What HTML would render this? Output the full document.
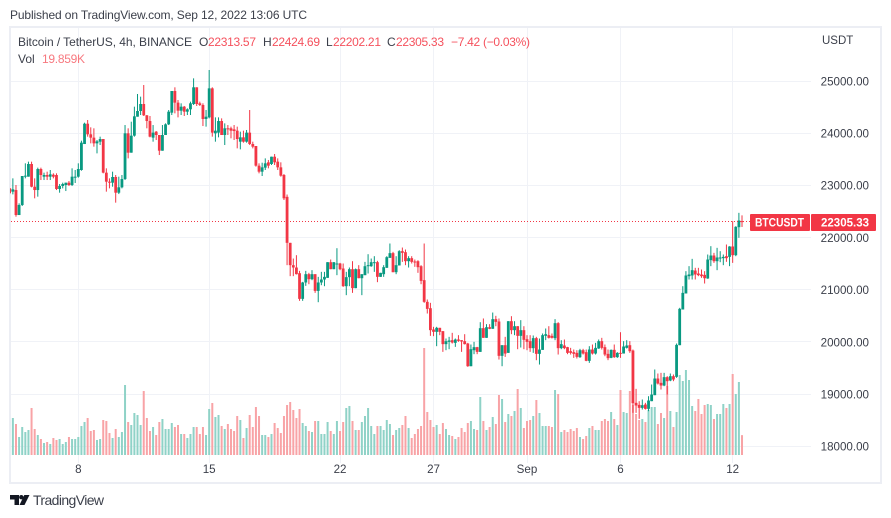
<!DOCTYPE html>
<html lang="en">
<head>
<meta charset="utf-8">
<title>BTCUSDT chart</title>
<style>
html,body{margin:0;padding:0;background:#fff;width:891px;height:518px;overflow:hidden}
svg{display:block}
text{font-family:"Liberation Sans",sans-serif}
</style>
</head>
<body>
<svg id="chart" xmlns="http://www.w3.org/2000/svg" width="891" height="518" viewBox="0 0 891 518">
  <rect x="0" y="0" width="891" height="518" fill="#ffffff"/>
  <text x="10" y="19" font-size="12" fill="#3b3f4a" textLength="297" lengthAdjust="spacing">Published on TradingView.com, Sep 12, 2022 13:06 UTC</text>
  <rect x="10" y="27" width="871" height="456" fill="none" stroke="#eceef4" stroke-width="2"/>
  <g id="grid"></g>
  <g id="volumes"></g>
  <g id="candles"></g>
  <g id="yaxis"></g>
  <g id="xaxis"></g>
  <line id="lastline" x1="11" x2="750" stroke="#f23645" stroke-width="1" stroke-dasharray="1 2"/>
  <g>
    <rect x="750" y="214" width="60" height="17" rx="1" fill="#f23645"/>
    <rect x="811" y="214" width="65" height="17" rx="1" fill="#f23645"/>
    <text x="755" y="226.5" font-size="12" fill="#ffffff" font-weight="700" textLength="49" lengthAdjust="spacingAndGlyphs">BTCUSDT</text>
    <text x="821" y="226.5" font-size="12" fill="#ffffff" font-weight="700" textLength="48" lengthAdjust="spacingAndGlyphs">22305.33</text>
  </g>
  <text x="822" y="44" font-size="11.5" fill="#3b3f4a">USDT</text>
  <g font-size="12">
    <text x="18" y="46" fill="#3b3f4a" textLength="174" lengthAdjust="spacing">Bitcoin / TetherUS, 4h, BINANCE</text>
    <text x="199" y="46" fill="#3b3f4a">O</text>
    <text x="208" y="46" fill="#f5515d" textLength="48" lengthAdjust="spacing">22313.57</text>
    <text x="263" y="46" fill="#3b3f4a">H</text>
    <text x="272" y="46" fill="#f5515d" textLength="48" lengthAdjust="spacing">22424.69</text>
    <text x="326" y="46" fill="#3b3f4a">L</text>
    <text x="333" y="46" fill="#f5515d" textLength="48" lengthAdjust="spacing">22202.21</text>
    <text x="387" y="46" fill="#3b3f4a">C</text>
    <text x="396" y="46" fill="#f5515d" textLength="48" lengthAdjust="spacing">22305.33</text>
    <text x="451" y="46" fill="#f5515d" textLength="79" lengthAdjust="spacing">−7.42 (−0.03%)</text>
    <text x="18" y="63" fill="#3b3f4a">Vol</text>
    <text x="42" y="63" fill="#f7787f" textLength="43" lengthAdjust="spacing">19.859K</text>
  </g>
  <g>
    <polygon points="10,495 19,495 19,505 14.5,505 14.5,499.5 10,499.5" fill="#131722"/>
    <circle cx="21.3" cy="497.2" r="2.2" fill="#131722"/>
    <polygon points="24.3,495 29.5,495 24.5,505 19.5,505" fill="#131722"/>
    <text x="33" y="505" font-size="14" fill="#3b3f4a" textLength="71" lengthAdjust="spacing">TradingView</text>
  </g>
</svg>
<script>
var timeTickLabels = ["8","15","22","27","Sep","6","12"];
var timeTickBars = [22,64,106,136,166,196,232];
var priceTicks = [25000,24000,23000,22000,21000,20000,19000,18000];
var lastPrice = 22305.33;
var opens = [
22942,22879,22910,22431,22623,23166,23166,23409,22974,22910,
23313,23166,23198,23166,23204,23198,22930,22987,23006,23051,
23006,23153,23166,23294,23792,24182,23978,23914,23805,23837,
23888,23243,23070,23051,23160,22859,22962,23121,23997,23626,
23952,24316,24425,24559,24342,24233,23914,24029,23965,23664,
23965,24169,24393,24808,24585,24431,24508,24412,24457,24559,
24879,24572,24540,24272,24303,24859,23997,24010,24233,23965,
24093,24093,24073,24048,23837,23920,23837,24010,23792,23754,
23377,23262,23339,23441,23409,23549,23454,23345,23198,22780,
21898,21470,21425,21316,20824,21138,21297,21201,21297,20977,
21138,21195,21227,21527,21393,21489,21502,21406,21067,21240,
21393,21029,21393,21220,21278,21450,21450,21514,21527,21246,
21297,21419,21610,21700,21335,21464,21738,21719,21546,21604,
21540,21546,21450,21182,20767,20645,20237,20192,20269,20205,
19956,20000,20032,19981,20045,20032,20013,19968,19533,19840,
19898,19808,20262,20077,20281,20250,20435,20390,19732,19936,
19789,20396,20224,20300,20115,20224,20051,20013,19879,20071,
19770,19846,20115,20128,20115,20071,20358,19879,19930,19898,
19821,19802,19789,19706,19840,19802,19636,19853,19776,19872,
20013,19898,19770,19693,19847,19706,19789,19776,19885,19936,
19834,18831,18792,18735,18799,18716,18863,18978,19297,19214,
19163,19323,19259,19342,19329,19936,20620,20927,21259,21272,
21367,21310,21291,21284,21214,21566,21655,21546,21604,21604,
21642,21629,21828,21661,22198,22313.57];
var highs = [
22942,23134,23006,22655,23179,23422,23454,23454,23134,23339,
23339,23243,23262,23294,23230,23230,23025,23051,23051,23083,
23326,23294,23422,23856,24201,24252,24112,24093,23869,23933,
23888,23326,23134,23262,23198,23166,23198,24156,24093,24220,
24508,24751,24700,24923,24348,24329,24156,24041,23965,24156,
24188,24444,24808,24879,24636,24572,24521,24476,24604,25051,
24879,24604,24572,24444,25211,24879,24303,24303,24284,24188,
24156,24125,24156,24125,24029,24048,24061,24444,23837,23754,
23422,23434,23517,23486,23549,23601,23517,23441,23217,22824,
21898,21597,21661,21361,21150,21361,21323,21374,21297,21246,
21342,21342,21527,21578,21527,21795,21514,21502,21342,21425,
21546,21406,21470,21297,21533,21680,21597,21642,21553,21323,
21470,21642,21885,21725,21642,21757,21808,21770,21642,21642,
21578,21565,21470,21885,20812,20748,20288,20288,20269,20205,
20064,20096,20173,20064,20128,20032,20147,19981,19949,20000,
19904,20377,20448,20339,20339,20562,20499,20448,19936,20096,
20396,20492,20396,20300,20416,20300,20128,20128,20122,20096,
20064,20160,20256,20300,20160,20435,20377,20032,20045,19904,
19885,19853,19840,19866,19866,19853,19917,19949,19981,20045,
20077,19949,19853,19853,19949,19802,20185,20013,20032,20013,
19853,19099,18863,18895,18831,18958,19182,19470,19393,19406,
19406,19342,19393,19374,19968,20652,21067,21355,21451,21591,
21419,21419,21387,21355,21674,21834,21706,21802,21738,21674,
21866,21834,22313,22217,22473,22424.69];
var lows = [
22847,22827,22399,22431,22604,23134,23166,22962,22751,22783,
23102,23102,23102,23102,23134,22910,22859,22942,22891,22987,
22987,23045,23147,23280,23792,23933,23805,23741,23613,23773,
23230,22879,22942,22974,22668,22833,22942,23102,23517,23626,
23933,24316,24348,24329,24093,23920,23837,23869,23581,23664,
23965,24156,24348,24380,24303,24348,24329,24348,24348,24540,
24521,24521,24137,24125,24284,23933,23837,23920,23965,23773,
23965,23901,23869,23709,23690,23818,23818,23773,23709,23358,
23230,23179,23294,23326,23390,23390,23294,23166,22719,21470,
21259,21259,21291,20786,20786,21073,21105,21182,20939,20760,
21086,21067,21227,21393,21393,21278,21374,21054,20895,21067,
20939,21029,21220,20895,21278,21310,21438,21342,21144,21246,
21246,21419,21610,21335,21297,21464,21533,21470,21425,21502,
21438,21323,21105,20748,20543,20115,20109,19917,20128,19808,
19840,19859,19968,19904,20000,19808,19949,19521,19533,19764,
19764,19808,20077,20077,20243,20250,20300,19661,19533,19712,
19789,20147,20128,19859,19891,19859,19840,19808,19789,19648,
19565,19846,20032,20064,20064,20032,19757,19859,19859,19764,
19757,19693,19681,19693,19757,19629,19597,19757,19757,19866,
19853,19725,19649,19687,19693,19693,19693,19776,19872,19789,
18639,18639,18524,18703,18703,18671,18863,18978,19182,19086,
19150,18990,19246,19246,19310,19936,20620,20927,21195,21195,
21195,21259,21227,21118,21208,21451,21514,21374,21527,21470,
21534,21451,21514,21642,21994,22202.21];
var closes = [
22879,22923,22431,22623,23179,23185,23409,22974,22910,23313,
23198,23198,23166,23211,23166,22930,22987,23025,23051,23006,
23166,23166,23313,23818,24182,23978,23914,23805,23843,23888,
23243,23070,23051,23160,22859,22962,23121,23997,23626,23952,
24323,24425,24559,24342,24233,23933,24010,23965,23664,23965,
24169,24412,24808,24585,24431,24508,24412,24457,24572,24879,
24559,24540,24272,24316,24859,24010,24048,24233,23965,24093,
24073,24048,24041,23888,23920,23837,24010,23792,23741,23377,
23262,23345,23422,23377,23549,23441,23345,23185,22751,21898,
21470,21425,21297,20824,21138,21297,21201,21297,20977,21138,
21195,21246,21527,21393,21527,21502,21393,21067,21240,21393,
21029,21393,21220,21297,21450,21470,21527,21527,21246,21323,
21431,21623,21700,21335,21470,21738,21706,21546,21604,21533,
21521,21431,21169,20767,20632,20224,20192,20269,20192,19956,
20013,20026,19987,20045,20019,20007,19956,19533,19859,19898,
19808,20262,20077,20281,20250,20435,20383,19732,19936,19776,
20396,20224,20300,20115,20224,20039,20000,19879,20071,19770,
19853,20128,20147,20077,20077,20358,19879,19956,19879,19789,
19789,19770,19712,19840,19776,19636,19853,19776,19885,20013,
19885,19757,19687,19847,19706,19789,19776,19911,19930,19821,
18824,18780,18735,18786,18716,18875,18990,19297,19201,19163,
19323,19246,19342,19278,19942,20633,20939,21272,21291,21374,
21291,21278,21259,21220,21578,21655,21546,21617,21617,21629,
21604,21828,21661,22205,22326,22305.33];
var volumesK = [
0,37,31,18,28,23,25,47,26,20,
16,12,13,11,17,15,16,11,13,18,
16,16,18,29,33,37,24,25,15,16,
35,34,22,17,26,18,23,70,33,30,
42,40,30,64,37,24,28,20,33,36,
26,26,32,28,30,21,21,17,21,28,
28,21,28,20,46,52,38,40,29,26,
31,26,24,39,35,17,27,40,28,48,
39,20,20,18,21,32,27,22,39,50,
53,45,37,46,32,29,24,23,34,34,
21,21,33,24,21,34,24,33,47,49,
34,25,25,33,39,47,29,21,29,29,
25,35,31,20,25,27,30,39,27,17,
21,26,29,107,43,35,28,30,21,32,
26,20,19,16,18,27,23,32,34,26,
25,58,34,25,28,38,31,60,56,33,
41,39,44,66,47,27,34,35,39,55,
42,29,29,29,28,65,61,23,25,23,
26,24,27,18,16,19,27,29,25,25,
34,36,34,43,36,30,65,43,42,64,
50,41,35,36,33,45,48,48,31,42,
37,69,44,28,43,80,74,85,75,49,
44,56,41,50,51,50,36,41,41,51,
47,51,81,61,73,19.859];

var NS = "http://www.w3.org/2000/svg";
function xScale(i){ return 78.3 + (i - 22) * 3.116; }
function yScale(p){ return 81 + (25000 - p) * 0.05217; }
function volScale(v){ return 455 - v; }
function make(tag, parent, props){
  var el = document.createElementNS(NS, tag);
  for (var k in props) el.setAttribute(k, props[k]);
  parent.appendChild(el);
  return el;
}
var gridGroup = document.getElementById("grid");
var yGroup = document.getElementById("yaxis");
var xGroup = document.getElementById("xaxis");
var volGroup = document.getElementById("volumes");
var candleGroup = document.getElementById("candles");

priceTicks.forEach(function(p){
  var y = yScale(p);
  var line = make("line", gridGroup, {x1:11, x2:811, y1:Math.floor(y) + 0.5, y2:Math.floor(y) + 0.5, stroke:"#f0f2f7", "stroke-width":1});
  
  
  var label = make("text", yGroup, {x:869, y:y + 4.4, "text-anchor":"end", "font-size":11.6, fill:"#3b3f4a"});
  
  
  label.textContent = p.toFixed(2);
});

timeTickBars.forEach(function(b, n){
  var x = xScale(b);
  var line = make("line", gridGroup, {x1:Math.floor(x) + 0.5, x2:Math.floor(x) + 0.5, y1:28, y2:463, stroke:"#f0f2f7", "stroke-width":1});
  
  
  var label = make("text", xGroup, {x:x, y:473, "text-anchor":"middle", "font-size":11.6, fill:"#3b3f4a"});
  
  
  label.textContent = timeTickLabels[n];
});

volumesK.forEach(function(v, i){
  if (!v) return;
  var up = closes[i] >= opens[i];
  var y = volScale(v);
  var bar = make("rect", volGroup, {x:xScale(i) - 1, y:y, width:2, height:455 - y, fill: up ? "#8fd2c7" : "#f8a3a6"});
  
  
});

opens.forEach(function(o, i){
  var c = closes[i];
  var up = c >= o;
  var col = up ? "#089981" : "#f23645";
  var x = xScale(i);
  var left = Math.max(x - 1.4, 10);
  var right = x + 1.4;
  var wick = make("rect", candleGroup, {x:Math.max(x - 0.5, 10), y:yScale(highs[i]), width:1, height:yScale(lows[i]) - yScale(highs[i]), fill:col});
  
  
  var top = yScale(Math.max(o, c));
  var h = Math.max(yScale(Math.min(o, c)) - top, 1);
  var body = make("rect", candleGroup, {x:left, y:top, width:right - left, height:h, fill:col});
  
  
});

var lastLine = document.getElementById("lastline");
lastLine.setAttribute("y1", Math.floor(yScale(lastPrice)) + 0.5);
lastLine.setAttribute("y2", Math.floor(yScale(lastPrice)) + 0.5);
</script>
</body>
</html>
